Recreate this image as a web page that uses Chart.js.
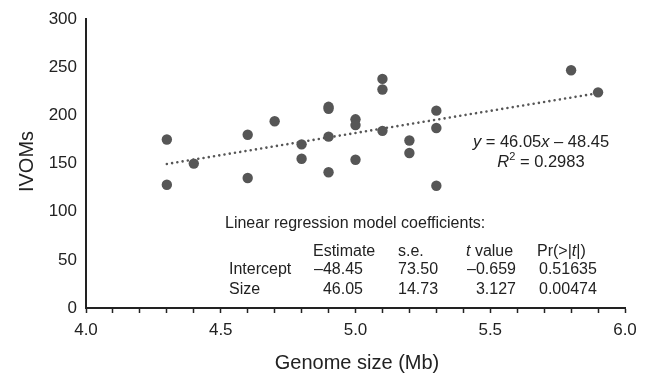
<!DOCTYPE html>
<html>
<head>
<meta charset="utf-8">
<script src="https://cdn.jsdelivr.net/npm/chart.js@4/dist/chart.umd.min.js"></script>
<style>
  html, body { margin: 0; padding: 0; background: #fff; }
  #wrap { width: 654px; height: 373px; }
</style>
</head>
<body>
<div id="wrap"><canvas id="chart" width="654" height="373"></canvas></div>
<script>
// genome size (Mb) and IVOM counts
const genomeSize = [4.3, 4.3, 4.4, 4.6, 4.6, 4.7, 4.8, 4.8, 4.9, 4.9, 4.9, 4.9,
                    5.0, 5.0, 5.0, 5.1, 5.1, 5.1, 5.2, 5.2, 5.3, 5.3, 5.3, 5.8, 5.9];
const ivoms = [175, 128, 150, 180, 135, 194, 170, 155, 209, 207, 178, 141,
               196, 190, 154, 238, 227, 184, 174, 161, 205, 187, 127, 247, 224];

// ends of the dotted fit line
const trendX = [4.3, 5.9];
const trendY = [149.6, 223.2];

const xTickLabels = ["4.0", "4.5", "5.0", "5.5", "6.0"];
const yTicks = [0, 50, 100, 150, 200, 250, 300];

const coefHeader = ["Estimate", "s.e.", "t value", "Pr(>|t|)"];
const coefRows = ["Intercept", "Size"];
const coefEstimate = ["–48.45", "46.05"];
const coefSE = ["73.50", "14.73"];
const coefT = ["–0.659", "3.127"];
const coefP = ["0.51635", "0.00474"];

const FONT = '"Liberation Sans", Arial, Helvetica, sans-serif';
const INK = "#222222";
const DOT = "#565656";

Chart.defaults.font.family = FONT;
Chart.defaults.color = INK;

function font(size, italic) {
  return (italic ? "italic " : "") + size + "px " + FONT;
}

// draw a run of text pieces: [text, italic, superscript]
function drawRich(ctx, parts, x, y, align, size) {
  let total = 0;
  parts.forEach(p => {
    ctx.font = font(p[2] ? Math.round(size * 0.68) : size, p[1]);
    total += ctx.measureText(p[0]).width;
  });
  let cx = align === "center" ? x - total / 2 : align === "right" ? x - total : x;
  ctx.textAlign = "left";
  parts.forEach(p => {
    ctx.font = font(p[2] ? Math.round(size * 0.68) : size, p[1]);
    ctx.fillText(p[0], cx, p[2] ? y - size * 0.42 : y);
    cx += ctx.measureText(p[0]).width;
  });
}

const annotations = {
  id: "annotations",
  afterDraw(chart) {
    const ctx = chart.ctx;
    ctx.save();
    ctx.fillStyle = INK;
    ctx.textBaseline = "alphabetic";

    // axis titles
    ctx.font = font(20);
    ctx.textAlign = "center";
    ctx.fillText("Genome size (Mb)", 357, 369);
    ctx.save();
    ctx.translate(33, 161.5);
    ctx.rotate(-Math.PI / 2);
    ctx.fillText("IVOMs", 0, 0);
    ctx.restore();

    // fit equation
    drawRich(ctx, [["y", true], [" = 46.05", false], ["x", true], [" – 48.45", false]], 541, 146.5, "center", 16.5);
    drawRich(ctx, [["R", true], ["2", false, true], [" = 0.2983", false]], 541, 166.5, "center", 16.5);

    // coefficient table
    ctx.font = font(16);
    ctx.textAlign = "left";
    ctx.fillText("Linear regression model coefficients:", 225, 228);
    const headY = 256, rowY = [274, 293.5];
    ctx.fillText(coefHeader[0], 313, headY);
    ctx.fillText(coefHeader[1], 398, headY);
    drawRich(ctx, [["t", true], [" value", false]], 466, headY, "left", 16);
    drawRich(ctx, [["Pr(>|", false], ["t", true], ["|)", false]], 537, headY, "left", 16);
    coefRows.forEach((name, i) => {
      ctx.font = font(16);
      ctx.textAlign = "left";
      ctx.fillText(name, 229, rowY[i]);
      ctx.textAlign = "right";
      ctx.fillText(coefEstimate[i], 363, rowY[i]);
      ctx.textAlign = "left";
      ctx.fillText(coefSE[i], 398, rowY[i]);
      ctx.textAlign = "right";
      ctx.fillText(coefT[i], 516, rowY[i]);
      ctx.textAlign = "left";
      ctx.fillText(coefP[i], 539, rowY[i]);
    });
    ctx.restore();
  }
};

new Chart(document.getElementById("chart"), {
  type: "scatter",
  data: {
    datasets: [
      {
        data: genomeSize.map((x, i) => ({ x, y: ivoms[i] })),
        backgroundColor: DOT,
        borderWidth: 0,
        pointRadius: 5.2,
        pointHoverRadius: 5.2,
        order: 0,
      },
      {
        data: trendX.map((x, i) => ({ x, y: trendY[i] })),
        showLine: true,
        borderColor: DOT,
        borderWidth: 2.6,
        borderDash: [0.01, 5.3],
        borderCapStyle: "round",
        pointRadius: 0,
        order: 1,
      },
    ],
  },
  options: {
    responsive: false,
    animation: false,
    devicePixelRatio: 1,
    layout: { padding: { left: 0, right: 29, top: 15, bottom: 0 } },
    plugins: { legend: { display: false }, tooltip: { enabled: false } },
    scales: {
      x: {
        type: "linear",
        min: 4, max: 6,
        afterFit: s => { s.height = 65; },
        afterBuildTicks: s => {
          const t = [];
          for (let i = 0; i <= 20; i++) t.push({ value: 4 + i / 10 });
          s.ticks = t;
        },
        ticks: {
          autoSkip: false, maxRotation: 0, padding: 7,
          font: { size: 17 }, color: INK,
          callback: (v, i) => (i % 5 === 0 ? xTickLabels[i / 5] : ""),
        },
        grid: { drawOnChartArea: false, drawTicks: true, tickLength: 5, tickColor: INK, tickWidth: 1.5 },
        border: { color: INK, width: 2 },
      },
      y: {
        type: "linear",
        min: 0, max: 300,
        afterFit: s => { s.width = 86; },
        afterBuildTicks: s => { s.ticks = yTicks.map(v => ({ value: v })); },
        ticks: { padding: 9, font: { size: 17 }, color: INK },
        grid: { drawOnChartArea: false, drawTicks: false },
        border: { color: INK, width: 2 },
      },
    },
  },
  plugins: [annotations],
});
</script>
</body>
</html>
